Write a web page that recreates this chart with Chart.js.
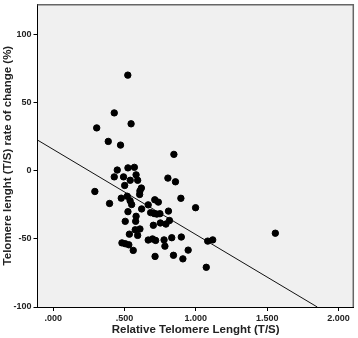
<!DOCTYPE html>
<html>
<head>
<meta charset="utf-8">
<script src="https://cdn.jsdelivr.net/npm/chart.js@4/dist/chart.umd.min.js"></script>
<style>
  body { margin: 0; background: #fff; }
  #wrap { width: 358px; height: 338px; }
</style>
</head>
<body>
<div id="wrap"><canvas id="chart1" width="358" height="338"></canvas></div>
<script>
// relative telomere length (T/S)
const tsLength = [
    0.523, 0.428, 0.305, 0.546, 0.386, 0.472, 0.846, 0.449, 0.524, 0.569,
    0.428, 0.493, 0.581, 0.540, 0.592, 0.804, 0.857, 0.292, 0.501, 0.618,
    0.608, 0.606, 0.395, 0.477, 0.519, 0.539, 0.550, 0.666, 0.712, 0.737,
    0.895, 0.998, 0.620, 0.524, 0.581, 0.578, 0.505, 0.683, 0.707, 0.726,
    0.748, 0.808, 0.815, 0.790, 0.751, 0.702, 0.575, 0.608, 0.534, 0.592,
    0.482, 0.505, 0.530, 0.561, 0.666, 0.696, 0.718, 0.777, 0.783, 0.831,
    0.898, 1.083, 1.118, 0.946, 0.843, 0.909, 0.714, 1.073, 1.557
];
// rate of change (%)
const rateChange = [
    70.0, 42.3, 31.3, 34.3, 21.4, 18.7, 11.9, 0.4, 2.0, 2.4,
    -4.6, -4.6, -3.1, -7.1, -7.1, -5.5, -8.2, -15.3, -10.9, -12.8,
    -14.9, -17.5, -24.1, -20.2, -18.8, -22.1, -24.9, -25.1, -21.4, -23.1,
    -20.3, -27.2, -28.1, -30.1, -33.5, -37.2, -37.2, -30.8, -31.5, -31.9,
    -31.6, -29.7, -36.6, -39.2, -38.4, -40.1, -43.4, -42.8, -46.6, -47.5,
    -53.0, -53.6, -54.4, -58.5, -50.9, -50.1, -51.2, -50.8, -55.4, -49.2,
    -48.7, -51.7, -50.8, -58.3, -62.1, -64.7, -62.9, -70.9, -45.9
];
// fit line end points
const fitX = [-0.11, 1.851];
const fitY = [22.4, -100];

const xTicks = [0, 0.5, 1, 1.5, 2];
const yTicks = [-100, -50, 0, 50, 100];

const plotBg = {
    id: 'plotBg',
    beforeDraw(chart) {
        const a = chart.chartArea;
        const ctx = chart.ctx;
        ctx.save();
        ctx.fillStyle = '#f0f0f0';
        ctx.fillRect(a.left, a.top, a.right - a.left, a.bottom - a.top);
        ctx.restore();
    },
    afterDraw(chart) {
        const a = chart.chartArea;
        const ctx = chart.ctx;
        ctx.save();
        ctx.strokeStyle = '#666';
        ctx.lineWidth = 1.5;
        ctx.beginPath();
        ctx.moveTo(a.left, a.top + 0.5);
        ctx.lineTo(a.right - 0.5, a.top + 0.5);
        ctx.lineTo(a.right - 0.5, a.bottom);
        ctx.stroke();
        ctx.restore();
    }
};

const tickFont = { family: 'Liberation Sans', size: 9, weight: 'bold' };
const titleFont = { family: 'Liberation Sans', size: 11.5, weight: 'bold' };

const config1 = {
    type: 'scatter',
    data: {
        datasets: [
            {
                data: tsLength.map((v, i) => ({ x: v, y: rateChange[i] })),
                backgroundColor: '#000',
                borderColor: '#000',
                pointRadius: 3.2,
                pointHoverRadius: 3.2,
            },
            {
                type: 'line',
                data: fitX.map((v, i) => ({ x: v, y: fitY[i] })),
                borderColor: '#111',
                borderWidth: 1,
                pointRadius: 0,
                fill: false,
            }
        ]
    },
    options: {
        responsive: false,
        animation: false,
        layout: { padding: { top: 0, right: 0, left: 0, bottom: 0 } },
        scales: {
            x: {
                type: 'linear',
                min: -0.11,
                max: 2.107,
                afterBuildTicks: s => { s.ticks = xTicks.map(v => ({ value: v })); },
                afterFit: s => { s.height = 31; s.paddingLeft = 0; s.paddingRight = 0; },
                ticks: {
                    color: '#222',
                    font: tickFont,
                    padding: 2,
                    maxRotation: 0,
                    callback: v => v.toFixed(3).replace(/^0/, ''),
                },
                grid: { drawOnChartArea: false, tickLength: 4, color: '#000' },
                border: { color: '#000', width: 1 },
                title: {
                    display: true,
                    text: 'Relative Telomere Lenght (T/S)',
                    color: '#222',
                    font: titleFont,
                    padding: { top: 0, bottom: 1 },
                },
            },
            y: {
                min: -100,
                max: 122,
                afterBuildTicks: s => { s.ticks = yTicks.map(v => ({ value: v })); },
                afterFit: s => { s.width = 37.5; s.paddingTop = 0; s.paddingBottom = 0; },
                ticks: {
                    color: '#222',
                    font: tickFont,
                    padding: 2,
                },
                grid: { drawOnChartArea: false, tickLength: 4, color: '#000' },
                border: { color: '#000', width: 1 },
                title: {
                    display: true,
                    text: 'Telomere lenght (T/S) rate of change (%)',
                    color: '#222',
                    font: titleFont,
                    padding: { top: 1, bottom: 0 },
                },
            },
        },
        plugins: {
            legend: { display: false },
            tooltip: { enabled: false },
        },
    },
    plugins: [plotBg],
};

const chart1 = new Chart(document.getElementById('chart1').getContext('2d'), config1);
</script>
</body>
</html>
